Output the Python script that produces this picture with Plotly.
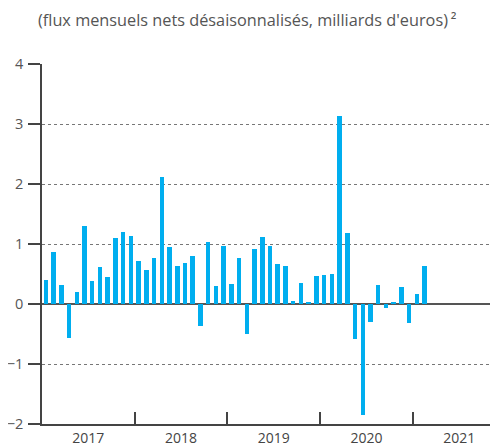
import plotly.graph_objects as go

# Monthly data Jan 2017 .. Feb 2021
months = [f"{y}-{m:02d}" for y in range(2017, 2022) for m in range(1, 13)][:50]
values = [
    0.40, 0.87, 0.32, -0.57, 0.20, 1.30, 0.38, 0.62, 0.45, 1.10, 1.20, 1.13,   # 2017
    0.72, 0.57, 0.77, 2.12, 0.95, 0.63, 0.68, 0.80, -0.37, 1.03, 0.30, 0.97,   # 2018
    0.33, 0.77, -0.50, 0.92, 1.12, 0.97, 0.67, 0.63, 0.05, 0.35, 0.02, 0.47,   # 2019
    0.48, 0.50, 3.13, 1.18, -0.58, -1.85, -0.30, 0.32, -0.07, 0.02, 0.28, -0.32,  # 2020
    0.17, 0.63,                                                                 # 2021
]
years = ["2017", "2018", "2019", "2020", "2021"]
y_ticks = [-2, -1, 0, 1, 2, 3, 4]
y_ticktext = ["\u22122", "\u22121", "0", "1", "2", "3", "4"]
title_text = "(flux mensuels nets désaisonnalisés, milliards d'euros)\u2009²"

x_idx = list(range(len(values)))
year_mid = [12 * i + 5.5 for i in range(len(years))]
year_bounds = [12 * i - 0.5 for i in range(1, len(years))]

BLUE = "#00AEEF"
AX = "#444444"
FONT = "Open Sans, Lato, sans-serif"

fig = go.Figure()
fig.add_trace(go.Bar(x=x_idx, y=values, marker=dict(color=BLUE, line=dict(width=0)),
                     width=0.58, customdata=months, hovertemplate="%{customdata}: %{y}<extra></extra>"))
# invisible trace to activate xaxis2 for year labels
fig.add_trace(go.Scatter(x=[year_mid[0]], y=[0], xaxis="x2", mode="markers",
                         marker=dict(opacity=0), showlegend=False, hoverinfo="skip"))

# page body has an 8px default margin, so the figure is sized to fit the window
fig.update_layout(
    width=490, height=439,
    margin=dict(l=34, r=0, t=56, b=23, autoexpand=False),
    paper_bgcolor="white", plot_bgcolor="white",
    showlegend=False,
    font=dict(family=FONT, color="#444", size=13),
    bargap=0,
    xaxis=dict(range=[-0.5, 58.5], showgrid=False, zeroline=False, automargin=False,
               showline=True, linecolor=AX, linewidth=1.5,
               tickmode="array", tickvals=year_bounds, ticks="inside",
               ticklen=12, tickwidth=1.5, tickcolor=AX, showticklabels=False),
    xaxis2=dict(range=[-0.5, 58.5], overlaying="x", anchor="y", side="bottom",
                automargin=False,
                showgrid=False, zeroline=False, showline=False, ticks="",
                tickmode="array", tickvals=year_mid, ticktext=years,
                ticklabelstandoff=4,
                tickfont=dict(size=14, color="#444")),
    yaxis=dict(range=[-2, 4], tickmode="array", tickvals=y_ticks, ticktext=y_ticktext,
               automargin=False,
               showline=True, linecolor=AX, linewidth=1.5,
               ticks="outside", ticklen=12, tickwidth=1.5, tickcolor=AX,
               ticklabelstandoff=2,
               tickfont=dict(size=14.5, color="#555"),
               showgrid=True, gridcolor="#777", gridwidth=1.3, griddash="dot",
               zeroline=True, zerolinecolor="#555", zerolinewidth=2),
    annotations=[dict(text=title_text, xref="paper", yref="paper", x=0.45, y=1.123,
                      xanchor="center", yanchor="middle", showarrow=False,
                      font=dict(size=16.3, color="#555"))],
)

fig.write_html("out.html")
